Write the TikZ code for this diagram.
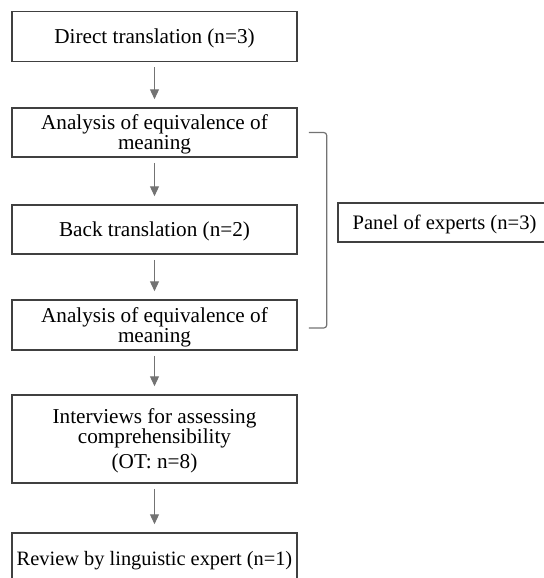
\documentclass[tikz,border=0pt]{standalone}
\usepackage{fontspec}
\setmainfont{Liberation Serif}
\usetikzlibrary{arrows.meta}
\definecolor{boxline}{gray}{0.25}
\definecolor{arrowgray}{gray}{0.45}
\tikzset{
	stage/.style={draw=boxline, line width=0.75pt, minimum width=142.5pt, minimum height=25pt, align=center, inner xsep=0pt, inner ysep=2pt, text depth=0pt, font=\fontsize{10.6}{10}\selectfont},
	flow/.style={draw=arrowgray, line width=0.6pt, -{Triangle[width=4.5pt,length=5pt]}, shorten <=2.5pt, shorten >=4pt},
	bracket/.style={draw=arrowgray, line width=0.6pt, rounded corners=1.5pt}
}
\begin{document}
\begin{tikzpicture}[x=0.5pt, y=-0.5pt]
	% frame 543 x 578 px, y grows downwards
	\useasboundingbox (0,0) rectangle (543,578);
	\node[stage] (direct) at (154.5,36.5) {Direct translation (n=3)};
	\node[stage, minimum height=24.5pt] (equivA) at (154.5,132.5) {Analysis of equivalence of\\meaning};
	\node[stage, minimum height=24.5pt] (back) at (154.5,229.5) {Back translation (n=2)};
	\node[stage] (equivB) at (154.5,325) {Analysis of equivalence of\\meaning};
	\node[stage, minimum height=44pt] (interv) at (154.5,439) {Interviews for assessing\\comprehensibility\\[2.5pt](OT: n=8)};
	\node[stage, font=\fontsize{10.2}{10}\selectfont] (review) at (154.5,558) {Review by linguistic expert (n=1)};
	% experts panel, its box runs off the right edge
	\node[stage, draw=none, minimum width=0pt, font=\fontsize{10.3}{10}\selectfont] (panel) at (444.5,222.5) {Panel of experts (n=3)};
	\draw[boxline, line width=0.75pt] (338,203) rectangle (620,242);
	
	\draw[flow] (direct) -- (equivA);
	\draw[flow] (equivA) -- (back);
	\draw[flow] (back) -- (equivB);
	\draw[flow] (equivB) -- (interv);
	\draw[flow] (interv) -- (review);
	
	\draw[bracket] ([xshift=5.5pt]equivA.east) -- ++(18,0) |- ([xshift=5.5pt,yshift=-1.5pt]equivB.east);
\end{tikzpicture}
\end{document}
